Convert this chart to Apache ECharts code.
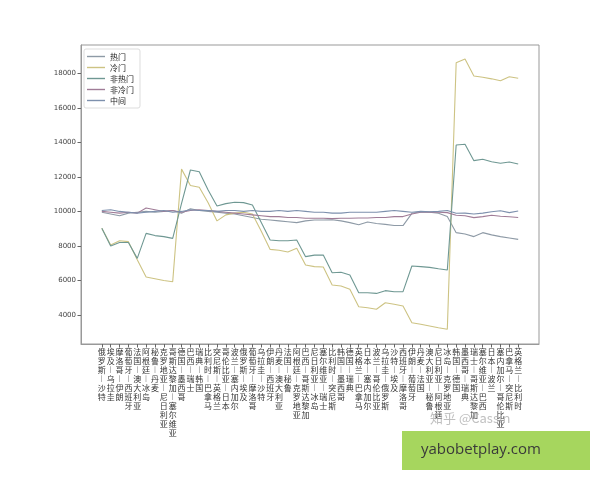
<!DOCTYPE html>
<html><head><meta charset="utf-8">
<script src="https://cdn.jsdelivr.net/npm/echarts@6/dist/echarts.min.js"></script>
<style>html,body{margin:0;padding:0;background:#fff}#c{width:600px;height:480px}</style>
</head><body><div id="c"></div>
<script>
const matches = ['俄罗斯—沙特','埃及—乌拉圭','摩洛哥—伊朗','葡萄牙—西班牙','法国—澳大利亚','阿根廷—冰岛','秘鲁—丹麦','克罗地亚—尼日利亚','哥斯达黎加—塞尔维亚','德国—墨西哥','巴西—瑞士','瑞典—韩国','比利时—巴拿马','突尼斯—英格兰','哥伦比亚—日本','波兰—塞内加尔','俄罗斯—埃及','葡萄牙—摩洛哥','乌拉圭—沙特','伊朗—西班牙','丹麦—澳大利亚','法国—秘鲁','阿根廷—克罗地亚','巴西—哥斯达黎加','尼日利亚—冰岛','塞尔维亚—瑞士','比利时—突尼斯','韩国—墨西哥','德国—瑞典','英格兰—巴拿马','日本—塞内加尔','波兰—哥伦比亚','乌拉圭—俄罗斯','沙特—埃及','西班牙—摩洛哥','伊朗—葡萄牙','丹麦—法国','澳大利亚—秘鲁','尼日利亚—阿根廷','冰岛—克罗地亚','韩国—德国','墨西哥—瑞典','瑞士—哥斯达黎加','塞尔维亚—巴西','日本—波兰','塞内加尔—哥伦比亚','巴拿马—突尼斯','英格兰—比利时'];
const hot = [9950,9850,9750,9900,9950,10000,9950,10000,10050,9900,10150,10050,10000,9950,9900,9850,9750,9650,9550,9500,9450,9400,9350,9450,9500,9500,9520,9450,9350,9230,9390,9300,9250,9180,9180,9890,9980,9950,9900,9700,8770,8690,8540,8770,8640,8540,8460,8380];
const upset = [9020,8050,8300,8250,7200,6200,6100,6000,5930,12450,11500,11400,10500,9450,9800,9900,9950,9850,8850,7800,7750,7650,7860,6900,6800,6780,5740,5680,5490,4480,4420,4330,4710,4620,4520,3550,3460,3360,3260,3170,18610,18830,17840,17770,17680,17570,17800,17710];
const nonHot = [9020,8000,8200,8200,7280,8730,8600,8540,8440,10470,12400,12300,11240,10310,10450,10530,10510,10370,9360,8340,8300,8300,8340,7380,7470,7470,6450,6480,6320,5290,5290,5250,5410,5350,5350,6840,6800,6760,6680,6610,13850,13890,12940,13020,12880,12790,12860,12750];
const nonUpset = [10000,9950,9900,9950,9900,10200,10100,10000,10050,9950,10050,10100,10050,10000,9950,9900,9850,9800,9750,9700,9700,9650,9650,9600,9600,9600,9580,9600,9600,9620,9620,9650,9650,9700,9700,9850,9950,9970,9950,9930,9780,9750,9640,9700,9780,9720,9690,9650];
const middle = [10050,10100,10000,9950,9900,9950,10000,10050,9950,10000,10100,10050,10050,10000,10050,10050,10000,10050,10000,10000,10050,10000,10050,10000,9950,9950,9900,9900,9950,9950,9950,9950,10000,10050,10000,9950,10000,9980,10000,10050,9890,9900,9850,9900,9980,10040,9930,10020];
const seriesNames = ['热门','冷门','非热门','非冷门','中间'];
const yTicks = [4000,6000,8000,10000,12000,14000,16000,18000];

const colors = ['#8e9aa6','#cdc383','#6f9893','#a07c97','#7d90ad'];
const allData = [hot, upset, nonHot, nonUpset, middle];
const idx = matches.map((_, i) => i);

const chart = echarts.init(document.getElementById('c'), null, {renderer:'canvas'});
chart.setOption({
  backgroundColor: '#fff',
  animation: false,
  textStyle: {fontFamily: '"Noto Sans CJK SC", "DejaVu Sans", sans-serif'},
  grid: {left: 81, right: 61, top: 45, bottom: 136, show: true, borderColor: '#999', borderWidth: 1, backgroundColor: 'transparent'},
  legend: {
    orient: 'vertical', left: 84, top: 49,
    data: seriesNames,
    icon: 'rect', itemWidth: 18, itemHeight: 1.4, itemGap: 2,
    padding: [3, 6, 3, 3],
    backgroundColor: 'rgba(255,255,255,0.85)', borderColor: '#ddd', borderWidth: 1, borderRadius: 2,
    textStyle: {fontSize: 8, color: '#222', lineHeight: 9, fontFamily: '"Noto Sans CJK SC", sans-serif'}
  },
  xAxis: {
    type: 'value', min: -2.35, max: 49.35,
    splitLine: {show: false},
    axisLine: {show: true, onZero: false, lineStyle: {color: '#999'}},
    axisTick: {show: true, customValues: idx, length: 3.5, lineStyle: {color: '#666'}},
    axisLabel: {
      customValues: idx, margin: 4, fontSize: 8, lineHeight: 8.9, color: '#333',
      fontFamily: '"Noto Sans CJK SC", sans-serif',
      formatter: v => Array.from(matches[v] || '').map(ch => ch === '—' ? '︱' : ch).join('\n')
    }
  },
  yAxis: {
    type: 'value', min: 2320, max: 19640,
    splitLine: {show: false},
    axisLine: {show: true, onZero: false, lineStyle: {color: '#999'}},
    axisTick: {show: true, customValues: yTicks, length: 3.5, lineStyle: {color: '#666'}},
    axisLabel: {customValues: yTicks, fontSize: 7, color: '#444', margin: 5, fontFamily: '"DejaVu Sans", sans-serif',
      formatter: v => String(v)}
  },
  series: seriesNames.map((name, k) => ({
    name, type: 'line', symbol: 'none', smooth: false,
    data: allData[k].map((v, i) => [i, v]),
    lineStyle: {width: 1.1, color: colors[k]},
    itemStyle: {color: colors[k]},
    z: 2 + k
  })),
  graphic: [
    {type: 'text', left: 430, top: 412, z: 50,
     style: {text: '知乎 @Cassin', fontSize: 13, fill: 'rgba(170,170,170,0.75)', fontFamily: '"Noto Sans CJK SC", sans-serif'}},
    {type: 'rect', shape: {x: 402, y: 431, width: 188, height: 39}, style: {fill: '#a6d65e'}, z: 60},
    {type: 'text', left: 421, top: 442, z: 61,
     style: {text: 'yabobetplay.com', fontSize: 15, fill: '#3a3a3a', fontFamily: '"Open Sans", "DejaVu Sans", sans-serif'}}
  ]
});
</script></body></html>
